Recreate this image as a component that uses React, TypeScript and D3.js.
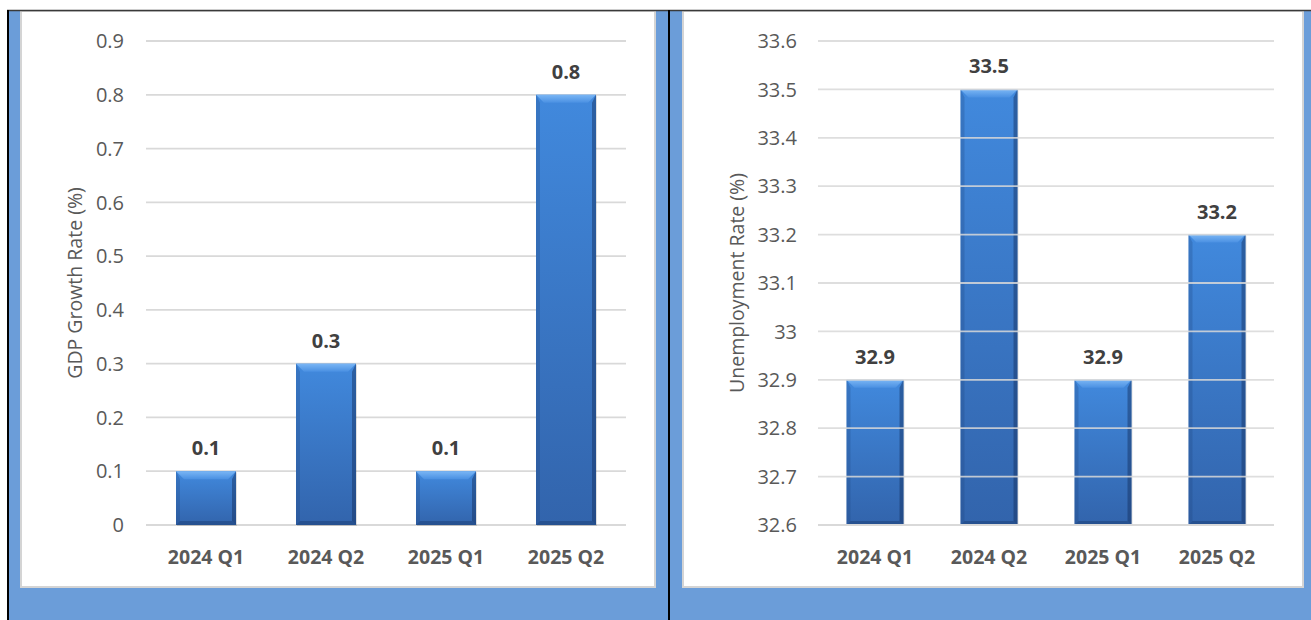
import React from "react";
import * as d3 from "d3";

const categories = ["2024 Q1", "2024 Q2", "2025 Q1", "2025 Q2"];
const gdpValues = [0.1, 0.3, 0.1, 0.8];
const unempValues = [32.9, 33.5, 32.9, 33.2];
const gdpTicks = [0, 0.1, 0.2, 0.3, 0.4, 0.5, 0.6, 0.7, 0.8, 0.9];
const unempTicks = [32.6, 32.7, 32.8, 32.9, 33, 33.1, 33.2, 33.3, 33.4, 33.5, 33.6];

const FONT = "'Open Sans', 'Noto Sans', sans-serif";

type PanelProps = {
  id: string;
  values: number[];
  ticks: number[];
  domain: [number, number];
  x0: number;
  x1: number;
  tickRight: number;
  titleX: number;
  title: string;
  gridOver: boolean;
};

function Panel({ id, values, ticks, domain, x0, x1, tickRight, titleX, title, gridOver }: PanelProps) {
  const y = d3.scaleLinear().domain(domain).range([525, 41]);
  const x = d3.scaleBand<string>().domain(categories).range([x0, x1]).paddingInner(0.5).paddingOuter(0.25);
  const bw = x.bandwidth();
  const grid = (
    <g>
      {ticks.map((t) => (
        <line key={t} x1={x0} x2={x1} y1={y(t)} y2={y(t)} stroke="#d9d9d9" strokeWidth={1.8} opacity={gridOver && t !== domain[0] ? 0.85 : 1} />
      ))}
    </g>
  );
  const fmt = (v: number) => String(+v.toFixed(1));
  return (
    <g>
      <defs>
        <linearGradient id={`${id}-body`} x1="0" y1="0" x2="0" y2="1">
          <stop offset="0" stopColor="#4189dd" />
          <stop offset="1" stopColor="#3264ac" />
        </linearGradient>
        <linearGradient id={`${id}-top`} x1="0" y1="0" x2="0" y2="1">
          <stop offset="0" stopColor="#7ab6f5" />
          <stop offset="1" stopColor="#4a90e2" />
        </linearGradient>
      </defs>
      {!gridOver && grid}
      {values.map((v, i) => {
        const bx = x(categories[i])!;
        const top = y(v);
        const bot = y(domain[0]);
        const h = bot - top;
        const b = Math.min(8, h / 3);
        const s = 4;
        return (
          <g key={i}>
            <rect x={bx + 1} y={top + 1} width={bw} height={h} fill="#000" opacity={0.12} />
            <rect x={bx} y={top} width={bw} height={h} fill={`url(#${id}-body)`} />
            <polygon points={`${bx},${top} ${bx + bw},${top} ${bx + bw - b},${top + b} ${bx + b},${top + b}`} fill={`url(#${id}-top)`} />
            <polygon points={`${bx},${top} ${bx + s},${top + b} ${bx + s},${bot - s} ${bx},${bot}`} fill="#1d3f78" opacity={0.25} />
            <polygon points={`${bx + bw},${top} ${bx + bw - s},${top + b} ${bx + bw - s},${bot - s} ${bx + bw},${bot}`} fill="#122d5c" opacity={0.45} />
            <polygon points={`${bx},${bot} ${bx + s},${bot - s} ${bx + bw - s},${bot - s} ${bx + bw},${bot}`} fill="#122d5c" opacity={0.35} />
            <text x={bx + bw / 2} y={top - 16} textAnchor="middle" fontFamily={FONT} fontWeight="bold" fontSize={20} fill="#404040">
              {fmt(v)}
            </text>
          </g>
        );
      })}
      {gridOver && grid}
      {ticks.map((t) => (
        <text key={t} x={tickRight} y={y(t)} dy="0.36em" textAnchor="end" fontFamily={FONT} fontSize={20} fill="#595959">
          {fmt(t)}
        </text>
      ))}
      {categories.map((c) => (
        <text key={c} x={x(c)! + bw / 2} y={564} textAnchor="middle" fontFamily={FONT} fontWeight="bold" fontSize={19.5} fill="#595959">
          {c}
        </text>
      ))}
      <text transform={`translate(${titleX},${283}) rotate(-90)`} dy="0.35em" textAnchor="middle" fontFamily={FONT} fontSize={19.5} fill="#595959">
        {title}
      </text>
    </g>
  );
}

export default function App() {
  return (
    <svg width={1311} height={620} style={{ position: "absolute", left: 0, top: 0 }}>
      <rect x={0} y={0} width={1311} height={620} fill="#ffffff" />
      <rect x={8} y={10} width={1303} height={610} fill="#6b9dd9" />
      <rect x={21} y={11} width={634} height={576} fill="#ffffff" stroke="#d4d4d4" strokeWidth={2} />
      <rect x={683} y={11} width={620} height={576} fill="#ffffff" stroke="#d4d4d4" strokeWidth={2} />
      <line x1={7} x2={1311} y1={10.5} y2={10.5} stroke="#3a3a3a" strokeWidth={1.5} />
      <line x1={8} x2={8} y1={10} y2={620} stroke="#000" strokeWidth={2} />
      <line x1={669} x2={669} y1={10} y2={620} stroke="#000" strokeWidth={2} />
      <Panel id="gdp" values={gdpValues} ticks={gdpTicks} domain={[0, 0.9]} x0={146} x1={626} tickRight={124} titleX={75} title="GDP Growth Rate (%)" gridOver={false} />
      <Panel id="un" values={unempValues} ticks={unempTicks} domain={[32.6, 33.6]} x0={818} x1={1274} tickRight={797} titleX={737} title="Unemployment Rate (%)" gridOver={true} />
    </svg>
  );
}
